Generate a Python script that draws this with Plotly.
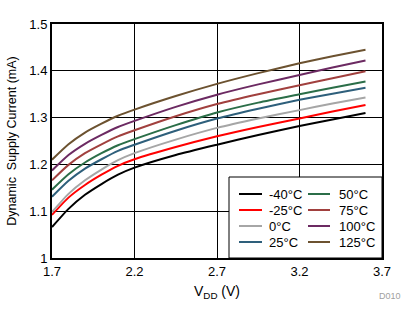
import plotly.graph_objects as go

# Supply voltage (V)
vdd = [1.7, 1.8, 1.9, 2.0, 2.1, 2.2, 2.45, 2.7, 2.95, 3.2, 3.4, 3.6]

# Dynamic supply current (mA) per temperature
i_m40 = [1.066, 1.105, 1.135, 1.158, 1.178, 1.193, 1.220, 1.242, 1.263, 1.282, 1.296, 1.310]
i_m25 = [1.092, 1.129, 1.156, 1.178, 1.197, 1.211, 1.237, 1.260, 1.280, 1.298, 1.313, 1.327]
i_0 = [1.098, 1.137, 1.166, 1.189, 1.209, 1.224, 1.253, 1.278, 1.298, 1.316, 1.330, 1.343]
i_25 = [1.131, 1.165, 1.191, 1.211, 1.229, 1.242, 1.272, 1.298, 1.319, 1.338, 1.351, 1.364]
i_50 = [1.146, 1.179, 1.204, 1.224, 1.241, 1.254, 1.284, 1.311, 1.332, 1.350, 1.364, 1.377]
i_75 = [1.166, 1.199, 1.224, 1.243, 1.260, 1.273, 1.303, 1.329, 1.350, 1.369, 1.384, 1.399]
i_100 = [1.187, 1.220, 1.244, 1.263, 1.280, 1.293, 1.323, 1.349, 1.371, 1.391, 1.407, 1.422]
i_125 = [1.210, 1.243, 1.268, 1.287, 1.304, 1.317, 1.346, 1.372, 1.395, 1.416, 1.431, 1.445]

labels = ["-40°C", "-25°C", "0°C", "25°C", "50°C", "75°C", "100°C", "125°C"]
series = [i_m40, i_m25, i_0, i_25, i_50, i_75, i_100, i_125]
colors = ["#000000", "#FF0000", "#A6A6A6", "#2E5F7B",
          "#2B6E48", "#A1403E", "#6C2A62", "#6C5230"]

x_ticks = [1.7, 2.2, 2.7, 3.2, 3.7]
y_ticks = [1, 1.1, 1.2, 1.3, 1.4, 1.5]

FONT = "Liberation Sans, Arial, sans-serif"

fig = go.Figure()
for name, ys, col in zip(labels, series, colors):
    fig.add_trace(go.Scatter(
        x=vdd, y=ys, name=name, mode="lines",
        line=dict(color=col, width=2, shape="spline", smoothing=0.6),
        showlegend=False,
    ))

# Margins define the plot area in pixels
W, H = 420, 324
ML, MR, MT, MB = 52, 38, 24, 66
PW, PH = W - ML - MR, H - MT - MB


def px_x(px):
    return (px - ML) / PW


def px_y(py):
    return (H - MB - py) / PH


shapes = []
annotations = []

# Legend box in the lower right corner of the plot
shapes.append(dict(type="rect", xref="paper", yref="paper",
                   x0=px_x(229), x1=1, y0=0, y1=px_y(177),
                   line=dict(color="black", width=1), fillcolor="white",
                   layer="above"))

rows_py = [194, 210, 226, 242]
cols_px = [(239, 262, 267), (308, 330, 337)]
for k, (name, col) in enumerate(zip(labels, colors)):
    c, r = divmod(k, 4)
    x0, x1, xt = cols_px[c]
    yy = px_y(rows_py[r])
    shapes.append(dict(type="line", xref="paper", yref="paper",
                       x0=px_x(x0), x1=px_x(x1), y0=yy, y1=yy,
                       line=dict(color=col, width=2), layer="above"))
    annotations.append(dict(text=name, xref="paper", yref="paper",
                            x=px_x(xt), y=yy, xanchor="left", yanchor="middle",
                            showarrow=False,
                            font=dict(family=FONT, size=13, color="black")))

# Figure id
annotations.append(dict(text="D010", xref="paper", yref="paper",
                        x=px_x(403), y=px_y(296), xanchor="right",
                        yanchor="middle", showarrow=False,
                        font=dict(family=FONT, size=9, color="#A0A0A0")))

fig.update_layout(
    width=W, height=H,
    margin=dict(l=ML, r=MR, t=MT, b=MB),
    paper_bgcolor="white", plot_bgcolor="white",
    font=dict(family=FONT, size=13, color="black"),
    shapes=shapes, annotations=annotations,
    xaxis=dict(
        range=[1.7, 3.7], tickvals=x_ticks,
        ticktext=[f"{v:g}" for v in x_ticks],
        showgrid=True, gridcolor="black", gridwidth=1,
        showline=True, linecolor="black", linewidth=2, mirror=True,
        ticks="", zeroline=False,
        tickfont=dict(family=FONT, size=13),
        title=dict(text="V<sub>DD</sub> (V)", standoff=9,
                   font=dict(family=FONT, size=14)),
    ),
    yaxis=dict(
        range=[1.0, 1.5], tickvals=y_ticks,
        ticktext=[f"{v:g}" for v in y_ticks],
        showgrid=True, gridcolor="black", gridwidth=1,
        showline=True, linecolor="black", linewidth=2, mirror=True,
        ticks="", zeroline=False,
        tickfont=dict(family=FONT, size=13),
        title=dict(text="Dynamic\u00a0 Supply Current (mA)", standoff=10,
                   font=dict(family=FONT, size=12.5)),
    ),
)

fig.write_html("out.html")
